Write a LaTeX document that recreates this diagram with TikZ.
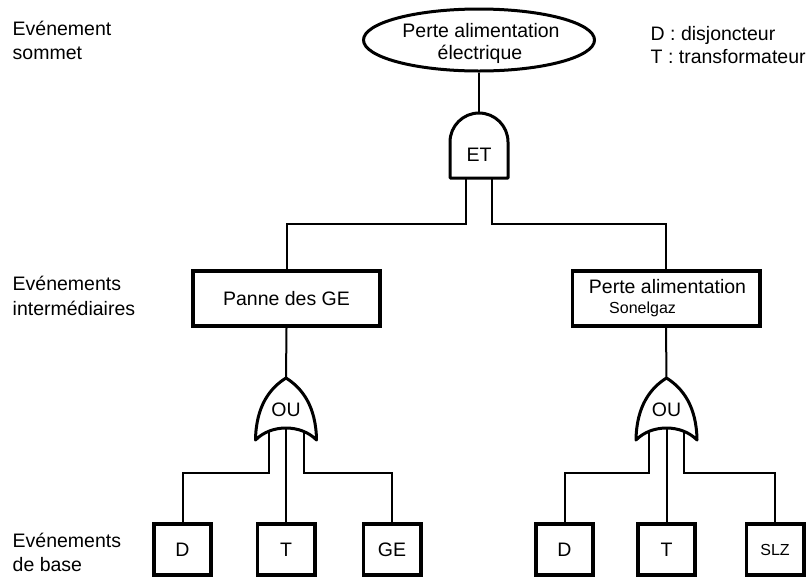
\documentclass[tikz,border=0pt]{standalone}
\usepackage{fontspec}
\setmainfont{Liberation Sans}
\usetikzlibrary{shapes.geometric,calc}

\begin{document}
\begin{tikzpicture}[x=1pt,y=1pt,
  txt/.style={font=\fontsize{19.5}{23}\selectfont, inner sep=0pt},
  smalltxt/.style={font=\fontsize{16}{19}\selectfont, inner sep=0pt},
  evbox/.style={draw, line width=3.8pt, fill=white, minimum width=57.2pt,
    minimum height=51.2pt, inner sep=0pt, font=\fontsize{19.5}{23}\selectfont},
  midbox/.style={draw, line width=3.8pt, fill=white, minimum width=187.2pt,
    minimum height=55.2pt, inner sep=0pt, font=\fontsize{19.5}{23}\selectfont},
  gate/.style={draw, line width=3pt, fill=white, line join=round},
  wire/.style={line width=2pt},
  orgate/.pic={
    \draw[gate] (-30.5,-62) .. controls (-30,-28) and (-16,-10) .. (0,0)
      .. controls (16,-10) and (30,-28) .. (30.5,-62)
      .. controls (15,-46) and (-15,-46) .. cycle;
    \coordinate (-top) at (0,0);
    \coordinate (-l) at (-17.5,-53.5);
    \coordinate (-c) at (0,-50);
    \coordinate (-r) at (17.5,-53.5);
    \node[txt] (-lbl) at (0,-31.5) {OU};
  },
]
\useasboundingbox (0,0) rectangle (808,-579);

% side captions
\node[txt, anchor=base west] (capTopA) at (12.5,-35) {Evénement};
\node[txt, anchor=base west] (capTopB) at (12.5,-59) {sommet};
\node[txt, anchor=base west] (capMidA) at (12.5,-290) {Evénements};
\node[txt, anchor=base west] (capMidB) at (12.5,-315) {intermédiaires};
\node[txt, anchor=base west] (capBasA) at (12.5,-547) {Evénements};
\node[txt, anchor=base west] (capBasB) at (12.5,-571) {de base};

% legend
\node[txt, anchor=base west] (legD) at (650.5,-40) {D : disjoncteur};
\node[txt, anchor=base west] (legT) at (650.5,-63) {T : transformateur};

% top event
\node[draw, ellipse, line width=3pt, minimum width=231pt, minimum height=62pt]
  (top) at (479,-40) {};
\node[txt, anchor=base] (topA) at (481,-37) {Perte alimentation};
\node[txt, anchor=base] (topB) at (480,-59.5) {électrique};

% AND gate
\draw[gate] (450,-178) -- (450,-142) arc[start angle=180, end angle=0, radius=29pt]
  -- (508,-178) -- cycle;
\coordinate (andTop) at (479,-113);
\coordinate (andL) at (466,-178);
\coordinate (andR) at (492,-178);
\node[txt] (andLbl) at (479,-155) {ET};

% intermediate events
\node[midbox] (pge) at (286.5,-298.5) {Panne des GE};
\node[midbox] (psz) at (666,-298.5) {};
\node[txt, anchor=base] (pszA) at (667.5,-293) {Perte alimentation};
\node[smalltxt, anchor=base west] (pszB) at (609,-313) {Sonelgaz};

% OR gates
\pic (orL) at (286,-378) {orgate};
\pic (orR) at (666.5,-378) {orgate};

% basic events
\node[evbox] (dL) at (182.5,-549.5) {D};
\node[evbox] (tL) at (286,-549.5) {T};
\node[evbox] (gL) at (392,-549.5) {GE};
\node[evbox] (dR) at (564.5,-549.5) {D};
\node[evbox] (tR) at (666.5,-549.5) {T};
\node[evbox, font=\fontsize{16}{19}\selectfont] (sR) at (775,-549.5) {SLZ};

% connectors
\draw[wire] (top.south) -- (andTop);
\draw[wire] (andL) -- ++(0,-46) -| (pge.north);
\draw[wire] (andR) -- ++(0,-46) -| (psz.north);
\draw[wire] (pge.south) -- (orL-top);
\draw[wire] (psz.south) -- (orR-top);
\draw[wire] (orL-l) -- ++(0,-41.5) -| (dL.north);
\draw[wire] (orL-c) -- (tL.north);
\draw[wire] (orL-r) -- ++(0,-41.5) -| (gL.north);
\draw[wire] (orR-l) -- ++(0,-41.5) -| (dR.north);
\draw[wire] (orR-c) -- (tR.north);
\draw[wire] (orR-r) -- ++(0,-41.5) -| (sR.north);
\end{tikzpicture}
\end{document}
